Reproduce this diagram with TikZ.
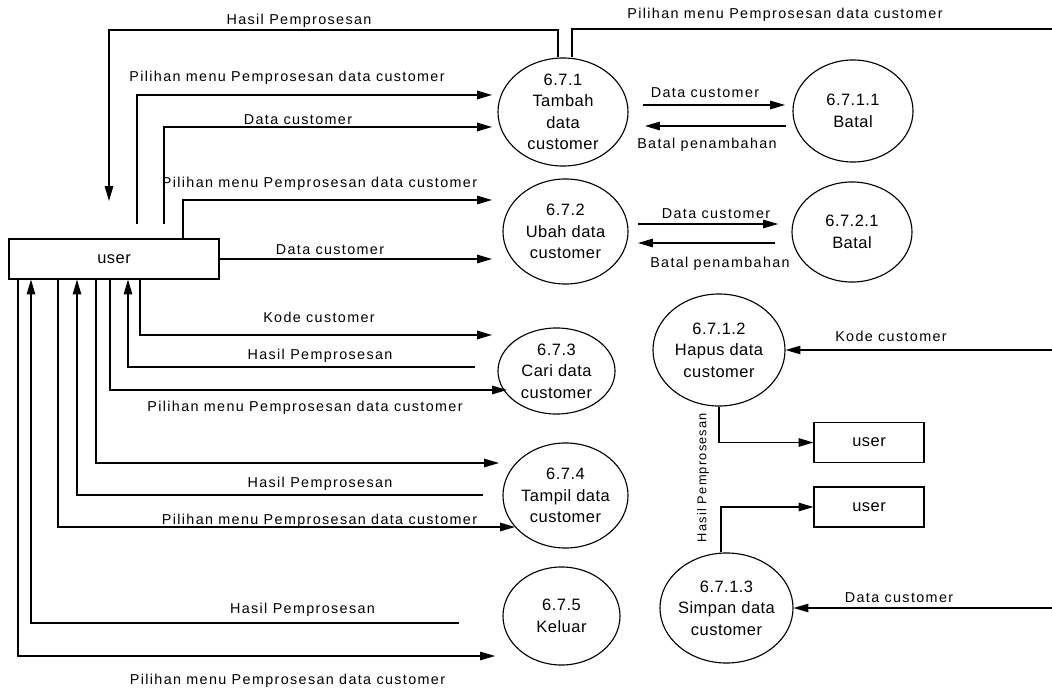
\documentclass[tikz,border=0pt]{standalone}
\usepackage{fontspec}
\setmainfont{Liberation Sans}
\newfontfamily\lblfamily{Liberation Sans}[LetterSpace=9.5]
\newfontfamily\bubfamily{Liberation Sans}[LetterSpace=3]
\usepackage{tikz}
\usetikzlibrary{arrows.meta, shapes.geometric}

\begin{document}
\begin{tikzpicture}[x=0.025cm, y=-0.025cm, line width=0.8pt,
        proc/.style={ellipse, draw, inner sep=-4pt, align=center, font=\bubfamily\fontsize{11.7}{15.3}\selectfont},
        ent/.style={draw, inner sep=0pt, minimum width=2.75cm, minimum height=1cm, font=\bubfamily\fontsize{11.7}{14}\selectfont},
        flow/.style={-{Triangle[length=10.5pt, width=6pt]}},
        lbl/.style={anchor=base, inner sep=0pt, font=\lblfamily\fontsize{10.2}{12}\selectfont}]
        \useasboundingbox (0,0) rectangle (1052,689);
        \node[ent, minimum width=5.25cm] (u) at (114,259) {user};
        \node[ent] (u2) at (869,442.5) {user};
        \node[ent] (u3) at (869,507) {user};
        \node[proc, minimum width=3.25cm, minimum height=2.7cm] (p1) at (563,112) {6.7.1\\Tambah\\data\\customer};
        \node[proc, minimum width=3cm, minimum height=2.55cm] (p11) at (853,111) {6.7.1.1\\Batal};
        \node[proc, minimum width=3.125cm, minimum height=2.625cm] (p2) at (565.5,231.5) {6.7.2\\Ubah data\\customer};
        \node[proc, minimum width=3cm, minimum height=2.5cm] (p21) at (852,232) {6.7.2.1\\Batal};
        \node[proc, minimum width=2.925cm, minimum height=2.15cm] (p3) at (556.5,371) {6.7.3\\Cari data\\customer};
        \node[proc, minimum width=3.125cm, minimum height=2.625cm] (p4) at (565.5,495.5) {6.7.4\\Tampil data\\customer};
        \node[proc, minimum width=2.925cm, minimum height=2.45cm] (p5) at (561.5,616) {6.7.5\\Keluar};
        \node[proc, minimum width=3.3cm, minimum height=2.8cm] (p12) at (719,350) {6.7.1.2\\Hapus data\\customer};
        \node[proc, minimum width=3.325cm, minimum height=2.75cm] (p13) at (726.5,608) {6.7.1.3\\Simpan data\\customer};

        \coordinate (a1) at (109,30);
        \coordinate (a2) at (109,201);
        \coordinate (b1) at (1052,29);
        \coordinate (c1) at (137,224);
        \coordinate (c2) at (492,95);
        \coordinate (d1) at (164,224);
        \coordinate (d2) at (492,127);
        \coordinate (e1) at (492,200);
        \coordinate (f1) at (492,259);
        \coordinate (g1) at (492,335);
        \coordinate (h1) at (475,367);
        \coordinate (i1) at (507,390);
        \coordinate (j1) at (499,463);
        \coordinate (k1) at (483,495);
        \coordinate (l1) at (515,527);
        \coordinate (m1) at (459,623);
        \coordinate (n1) at (495,656);
        \coordinate (o1) at (643,105);
        \coordinate (o2) at (785,105);
        \coordinate (q1) at (786,126);
        \coordinate (q2) at (645,126);
        \coordinate (r1) at (638,224);
        \coordinate (r2) at (778,224);
        \coordinate (s1) at (775,243);
        \coordinate (s2) at (638,243);
        \coordinate (t1) at (1052,350);
        \coordinate (v1) at (1052,608);

        \draw[flow] ([xshift=-1.25mm]p1.north) |- (a1) -- (a2);
        \draw (b1) -| ([xshift=2.25mm]p1.north);
        \draw[flow] (c1) |- (c2);
        \draw[flow] (d1) |- (d2);
        \draw[flow] ([xshift=17.25mm]u.north) |- (e1);
        \draw[flow] (u.east) -- (f1);
        \draw[flow] ([xshift=6.5mm]u.south) |- (g1);
        \draw[flow] (h1) -| ([xshift=3.5mm]u.south);
        \draw[flow] ([xshift=-1mm]u.south) |- (i1);
        \draw[flow] ([xshift=-4.5mm]u.south) |- (j1);
        \draw[flow] (k1) -| ([xshift=-9.25mm]u.south);
        \draw[flow] ([xshift=-14mm]u.south) |- (l1);
        \draw[flow] (m1) -| ([xshift=-20.75mm]u.south);
        \draw[flow] ([xshift=-24mm]u.south) |- (n1);
        \draw[flow] (o1) -- (o2);
        \draw[flow] (q1) -- (q2);
        \draw[flow] (r1) -- (r2);
        \draw[flow] (s1) -- (s2);
        \draw[flow] (t1) -- (p12);
        \draw[flow] (v1) -- (p13);
        \draw[flow] (p12.south) |- (u2.west);
        \draw[flow] ([xshift=-1.375mm]p13.north) |- (u3.west);

        \node[lbl] at (299,24.3) {Hasil Pemprosesan};
        \node[lbl] at (785,18.3) {Pilihan menu Pemprosesan data customer};
        \node[lbl] at (287,81.7) {Pilihan menu Pemprosesan data customer};
        \node[lbl] at (298,124.3) {Data customer};
        \node[lbl] at (319.5,187.7) {Pilihan menu Pemprosesan data customer};
        \node[lbl] at (330,254) {Data customer};
        \node[lbl] at (319,322.3) {Kode customer};
        \node[lbl] at (320,359.3) {Hasil Pemprosesan};
        \node[lbl] at (305,411.5) {Pilihan menu Pemprosesan data customer};
        \node[lbl] at (320,487.3) {Hasil Pemprosesan};
        \node[lbl] at (319.5,524) {Pilihan menu Pemprosesan data customer};
        \node[lbl] at (302.5,613) {Hasil Pemprosesan};
        \node[lbl] at (287.5,684) {Pilihan menu Pemprosesan data customer};
        \node[lbl] at (705,97.3) {Data customer};
        \node[lbl] at (707,148.7) {Batal penambahan};
        \node[lbl] at (716,218.3) {Data customer};
        \node[lbl] at (720,267.7) {Batal penambahan};
        \node[lbl] at (891,341.7) {Kode customer};
        \node[lbl] at (899,602.7) {Data customer};
        \node[lbl, anchor=center, rotate=90, font=\lblfamily\fontsize{9.1}{11}\selectfont] at (703,477.5) {Hasil Pemprosesan};
\end{tikzpicture}
\end{document}
